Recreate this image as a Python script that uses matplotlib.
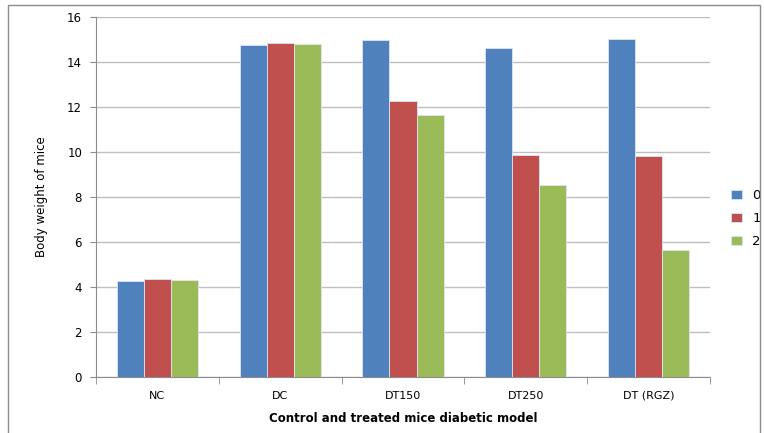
import matplotlib
matplotlib.use("Agg")
import matplotlib.pyplot as plt
from matplotlib.patches import Rectangle
import numpy as np

groups = ["NC", "DC", "DT150", "DT250", "DT (RGZ)"]
series = ["0", "1", "2"]
week0 = [4.25, 14.76, 14.98, 14.62, 15.02]
week1 = [4.35, 14.85, 12.27, 9.87, 9.84]
week2 = [4.30, 14.80, 11.64, 8.53, 5.64]
COLORS = ["#4F81BD", "#C0504D", "#9BBB59"]

fig = plt.figure(figsize=(7.64, 4.33), dpi=100)
fig.patches.append(Rectangle((8 / 764, -0.01), 752 / 764, 1 - 5 / 433 + 0.01,
                             transform=fig.transFigure, fill=False,
                             edgecolor="#8c8c8c", linewidth=1))
ax = fig.add_axes([96 / 764, 1 - 377 / 433, 614 / 764, 360 / 433])

x = np.arange(len(groups))
w = 0.22
for i, (vals, c) in enumerate(zip((week0, week1, week2), COLORS)):
    ax.bar(x + (i - 1) * w, vals, w, color=c, edgecolor="#dce6f2",
           linewidth=0.6, label=series[i], zorder=3)

ax.set_xlim(-0.5, len(groups) - 0.5)
ax.set_ylim(0, 16)
ax.set_yticks(range(0, 17, 2))
ax.set_xticks(x)
ax.set_xticklabels(groups, fontsize=8)
ax.set_xticks(np.arange(-0.5, len(groups)), minor=True)
ax.tick_params(axis="x", which="major", length=0, pad=10)
ax.tick_params(axis="x", which="minor", length=5, color="#8c8c8c")
ax.tick_params(axis="y", length=4, color="#8c8c8c", labelsize=8.5, pad=6)
ax.grid(axis="y", color="#bfbfbf", linewidth=1, zorder=0)
for s in ("top", "right"):
    ax.spines[s].set_visible(False)
for s in ("left", "bottom"):
    ax.spines[s].set_color("#8c8c8c")

ax.set_ylabel("Body weight of mice", fontsize=8.5, family="Liberation Sans Narrow",
              labelpad=14)
ax.set_xlabel("Control and treated mice diabetic model", fontsize=8.5,
              fontweight="bold", labelpad=8)

ax.legend(loc="center left", bbox_to_anchor=(1.015, 0.44), frameon=False,
          fontsize=9.5, handlelength=0.8, handleheight=0.6, labelspacing=0.75)

fig.savefig("out.png", dpi=100)
